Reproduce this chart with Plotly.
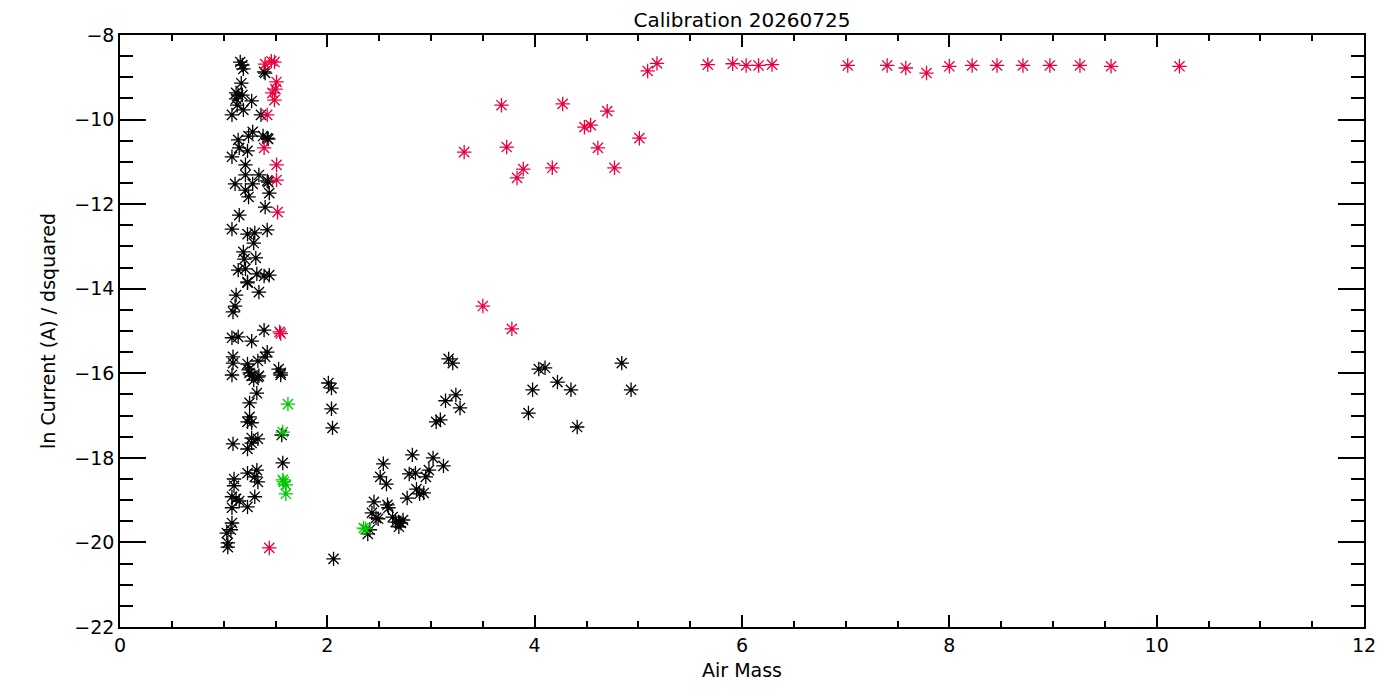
import plotly.graph_objects as go

# black points (ok)
black_x = [1.16, 1.18, 1.19, 1.40, 1.39, 1.17, 1.12, 1.14, 1.18, 1.12, 1.27, 1.13, 1.19, 1.08, 1.36,
           1.28, 1.24, 1.14, 1.38, 1.42, 1.43, 1.15, 1.23, 1.08, 1.21, 1.21, 1.34, 1.11, 1.28, 1.42,
           1.43, 1.21, 1.24, 1.44, 1.40, 1.15, 1.08, 1.23, 1.30, 1.42, 1.29, 1.19, 1.20, 1.31, 1.14,
           1.21, 1.32, 1.39, 1.44, 1.23, 1.23, 1.34, 1.12, 1.11, 1.09, 1.39, 1.08, 1.14, 1.27, 1.42,
           1.40, 1.09, 1.09, 1.23, 1.33, 1.24, 1.27, 1.34, 1.53, 1.55, 1.08, 1.25, 1.29, 1.33, 1.55,
           1.32, 1.25, 1.23, 1.25, 1.27, 1.56, 1.09, 1.23, 1.27, 1.33, 1.27, 1.57, 1.32, 1.23, 1.30,
           1.33, 1.10, 1.10, 1.08, 1.12, 1.15, 1.30, 1.23, 1.08, 1.08, 1.07, 1.03, 1.04, 1.04,
           2.01, 2.04, 2.04, 2.05, 2.06,
           3.17, 3.21, 3.24, 3.14, 3.28, 3.05, 3.09,
           4.04, 4.10, 3.98, 4.22, 4.35, 3.94, 4.41, 4.84, 4.93,
           2.54, 2.82, 3.02, 3.12, 2.98, 2.79, 2.85, 2.95, 2.51, 2.57, 2.86, 2.89, 2.93, 2.77,
           2.45, 2.58, 2.59, 2.43, 2.47, 2.49, 2.63, 2.66, 2.69, 2.73, 2.71, 2.69, 2.41, 2.39]
black_y = [-8.64, -8.71, -8.80, -8.90, -8.87, -9.14, -9.37, -9.42, -9.42, -9.51, -9.56, -9.66, -9.77, -9.89, -9.89,
           -10.29, -10.39, -10.48, -10.39, -10.44, -10.46, -10.67, -10.74, -10.88, -11.07, -11.31, -11.31, -11.52, -11.52, -11.45,
           -11.48, -11.67, -11.83, -11.74, -12.07, -12.26, -12.59, -12.71, -12.68, -12.61, -12.92, -13.13, -13.30, -13.27, -13.56,
           -13.53, -13.65, -13.70, -13.68, -13.86, -13.84, -14.08, -14.15, -14.41, -14.55, -14.98, -15.16, -15.14, -15.24, -15.50,
           -15.61, -15.61, -15.76, -15.78, -15.71, -15.92, -16.06, -16.06, -15.90, -16.04, -16.04, -15.99, -16.16, -16.09, -15.99,
           -16.47, -16.70, -17.15, -17.03, -17.17, -17.46, -17.67, -17.79, -17.53, -17.55, -17.65, -18.12, -18.29, -18.36, -18.45,
           -18.57, -18.50, -18.66, -18.92, -18.97, -19.02, -18.92, -19.16, -19.18, -19.54, -19.70, -19.78, -20.01, -20.11,
           -16.23, -16.35, -16.84, -17.29, -20.39,
           -15.66, -15.76, -16.51, -16.65, -16.82, -17.15, -17.10,
           -15.90, -15.87, -16.39, -16.21, -16.39, -16.94, -17.27, -15.76, -16.39,
           -18.14, -17.93, -18.00, -18.19, -18.29, -18.38, -18.36, -18.45, -18.45, -18.62, -18.74, -18.85, -18.83, -18.95,
           -19.04, -19.11, -19.18, -19.30, -19.42, -19.44, -19.40, -19.52, -19.52, -19.47, -19.54, -19.63, -19.70, -19.80]

# red points (flagged)
red_x = [1.40, 1.46, 1.49, 1.51, 1.50, 1.47, 1.49, 1.42, 1.39, 1.51, 1.51, 1.52, 1.54, 1.55, 1.44,
         5.18, 5.09, 3.68, 4.27, 4.70, 4.48, 4.54, 5.01, 3.32, 3.73, 4.61, 3.89, 3.83, 4.17, 4.77,
         3.50, 3.78,
         5.67, 5.91, 6.04, 6.16, 6.29, 7.02, 7.40, 7.58, 7.78, 8.00, 8.22, 8.46, 8.71, 8.97, 9.26,
         9.56, 10.22]
red_y = [-8.69, -8.62, -8.64, -9.11, -9.28, -9.37, -9.54, -9.89, -10.67, -11.07, -11.43, -12.19, -15.02, -15.06, -20.13,
         -8.67, -8.85, -9.66, -9.63, -9.80, -10.18, -10.13, -10.44, -10.77, -10.65, -10.67, -11.17, -11.38, -11.14, -11.14,
         -14.41, -14.95,
         -8.70, -8.68, -8.72, -8.72, -8.70, -8.72, -8.72, -8.78, -8.90, -8.74, -8.72, -8.72, -8.72, -8.72, -8.72,
         -8.74, -8.74]

# green points
green_x = [1.62, 1.57, 1.57, 1.60, 1.60, 1.58, 2.35, 2.37]
green_y = [-16.73, -17.39, -18.52, -18.64, -18.85, -18.57, -19.66, -19.68]

FONT = "DejaVu Sans"


def stars(x, y, color):
    return go.Scatter(
        x=x, y=y, mode="markers", hoverinfo="x+y",
        marker=dict(symbol="asterisk-open", size=12, color=color,
                    line=dict(width=1.3, color=color)),
    )


fig = go.Figure()
fig.add_trace(stars(black_x, black_y, "black"))
fig.add_trace(stars(red_x, red_y, "rgb(235,0,60)"))
fig.add_trace(stars(green_x, green_y, "rgb(0,200,0)"))

axis_common = dict(
    showgrid=False, zeroline=False, showline=True, linecolor="black", linewidth=1.5,
    mirror="allticks", ticks="inside", tickcolor="black", tickwidth=1.5,
    tickfont=dict(family=FONT, size=19, color="black"),
)

# page body has an 8px margin, so the plot box is shifted back by that much
fig.update_layout(
    width=1400, height=700,
    paper_bgcolor="white", plot_bgcolor="white",
    showlegend=False,
    margin=dict(l=112, r=44, t=27, b=81),
    title=dict(text="Calibration 20260725", xref="paper", x=0.5, xanchor="center",
               y=0.983, yanchor="middle",
               font=dict(family=FONT, size=20, color="black")),
    xaxis=dict(
        axis_common, range=[0, 12], dtick=2, tick0=0, ticklen=12,
        minor=dict(dtick=0.5, ticklen=6, ticks="inside", tickcolor="black", tickwidth=1.5),
        title=dict(text="Air Mass", standoff=9,
                   font=dict(family=FONT, size=19, color="black")),
    ),
    yaxis=dict(
        axis_common, range=[-22, -8], dtick=2, tick0=-22, ticklen=26,
        minor=dict(dtick=0.5, ticklen=13, ticks="inside", tickcolor="black", tickwidth=1.5),
        title=dict(text="ln Current (A) / dsquared", standoff=14,
                   font=dict(family=FONT, size=19, color="black")),
    ),
)

fig.write_html("out.html")
